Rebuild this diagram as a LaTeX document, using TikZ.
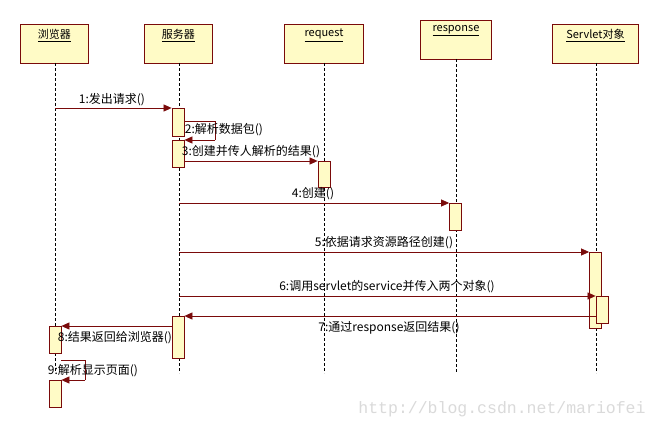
\documentclass[tikz,border=0pt]{standalone}
\usepackage{fontspec}
\setmainfont{Noto Sans CJK SC}
\newfontfamily\wmfont{Liberation Mono}
\usetikzlibrary{arrows.meta}
\definecolor{lnc}{HTML}{7A0A0A}
\definecolor{boxc}{HTML}{FFFBC6}
\definecolor{wmc}{HTML}{DADADA}
\begin{document}
\begin{tikzpicture}[x=1pt,y=-1pt,
  obj/.style={draw=lnc, fill=boxc, line width=0.9pt, anchor=north west, inner sep=0pt},
  hdr/.style={font=\fontsize{11}{13}\selectfont, inner sep=0pt, anchor=north},
  act/.style={draw=lnc, fill=boxc, line width=0.8pt, minimum width=12pt, anchor=north, inner sep=0pt},
  life/.style={draw=black, line width=0.6pt, dash pattern=on 3pt off 2pt},
  msg/.style={draw=lnc, line width=0.7pt, -{Triangle[length=8pt,width=7pt]}},
  plain/.style={draw=lnc, line width=0.7pt},
  lab/.style={font=\fontsize{12}{14}\selectfont, inner sep=0pt}
]
\useasboundingbox (0,0) rectangle (659,428);
\fill[white] (0,0) rectangle (659,428);

% objects
\node[obj, minimum width=68pt, minimum height=39pt] (b) at (20,24) {};
\node[obj, minimum width=68pt, minimum height=39pt] (s) at (144,24) {};
\node[obj, minimum width=79pt, minimum height=39pt] (q) at (284,24) {};
\node[obj, minimum width=71pt, minimum height=39pt] (r) at (420,20) {};
\node[obj, minimum width=86pt, minimum height=39pt] (v) at (552,24) {};
\node[hdr] (bt) at ([yshift=-5pt]b.north) {\underline{浏览器}};
\node[hdr] (st) at ([yshift=-5pt]s.north) {\underline{服务器}};
\node[hdr] (qt) at ([yshift=-5pt]q.north) {\underline{request}};
\node[hdr] (rt) at ([yshift=-5pt]r.north) {\underline{response}};
\node[hdr] (vt) at ([yshift=-5pt]v.north) {\underline{Servlet对象}};

% lifeline ends
\coordinate (be) at (55,373);
\coordinate (se) at (179,373);
\coordinate (qe) at (324,373);
\coordinate (re) at (456,373);
\coordinate (ve) at (596,373);
\draw[life] (55,63) -- (be);
\draw[life] (179,63) -- (se);
\draw[life] (324,63) -- (qe);
\draw[life] (456,59) -- (re);
\draw[life] (596,63) -- (ve);

% activations
\node[act, minimum height=28pt] (a1) at (178,108) {};
\node[act, minimum height=27pt] (a2) at (178,140) {};
\node[act, minimum height=26pt] (aq) at (324,161) {};
\node[act, minimum height=27pt] (ar) at (455.5,203) {};
\node[act, minimum height=76pt] (av) at (595.5,252) {};
\node[act, minimum height=27pt] (av2) at (602,296) {};
\node[act, minimum height=42pt] (a3) at (178,316) {};
\node[act, minimum height=27pt] (ab1) at (55,326) {};
\node[act, minimum height=27pt] (ab2) at (55,380) {};

% message start points
\coordinate (m1s) at (55,108);
\coordinate (m2s) at (184,121);
\coordinate (m2c) at (215,121);
\coordinate (m2d) at (215,140);
\coordinate (m4s) at (179,203);
\coordinate (m5s) at (179,252);
\coordinate (m6s) at (179,296);
\coordinate (m9s) at (61,360);
\coordinate (m9c) at (85,360);
\coordinate (m9d) at (85,380);

% messages
\draw[msg] (m1s) -- (a1.north west);
\draw[plain] (m2s) -- (m2c) -- (m2d);
\draw[msg] (m2d) -- (a2.north east);
\draw[msg] (a2.east |- aq.north) -- (aq.north west);
\draw[msg] (m4s) -- (ar.north west);
\draw[msg] (m5s) -- (av.north west);
\draw[msg] (m6s) -- (av2.north west);
\draw[msg] (av2.west |- a3.north) -- (a3.north east);
\draw[msg] (a3.west |- ab1.north) -- (ab1.north east);
\draw[plain] (m9s) -- (m9c) -- (m9d);
\draw[msg] (m9d) -- (ab2.north east);

% labels
\node[lab] (l1) at (112,100) {1:发出请求()};
\node[lab] (l2) at (224,130) {2:解析数据包()};
\node[lab] (l3) at (251,152) {3:创建并传人解析的结果()};
\node[lab] (l4) at (313,194) {4:创建()};
\node[lab] (l5) at (384,243) {5:依据请求资源路径创建()};
\node[lab] (l6) at (387,287) {6:调用servlet的service并传入两个对象()};
\node[lab] (l7) at (389,328) {7:通过response返回结果()};
\node[lab] (l8) at (115,338) {8:结果返回给浏览器()};
\node[lab] (l9) at (93,371) {9:解析显示页面()};

% watermark
\node[text=wmc, font=\wmfont\fontsize{16.5}{18}\selectfont, inner sep=0pt] (wm) at (502,409) {http://blog.csdn.net/mariofei};
\end{tikzpicture}
\end{document}
